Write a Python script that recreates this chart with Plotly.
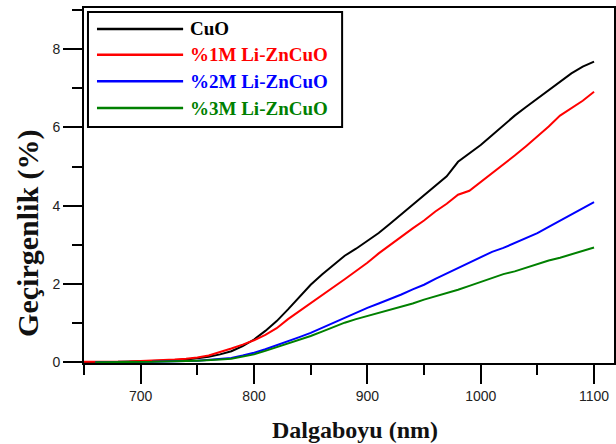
import plotly.graph_objects as go

# ---- data ----
wavelength = list(range(650, 1101, 10))

cuo = [0.00, 0.00, 0.01, 0.01, 0.02, 0.02, 0.03, 0.04, 0.05, 0.07, 0.10,
       0.14, 0.20, 0.28, 0.41, 0.58, 0.80, 1.05, 1.35, 1.66, 1.98,
       2.24, 2.48, 2.72, 2.90, 3.09, 3.30, 3.54, 3.78, 4.03, 4.28,
       4.52, 4.75, 5.12, 5.33, 5.55, 5.80, 6.06, 6.30, 6.52, 6.74,
       6.95, 7.18, 7.38, 7.55, 7.68]

li1 = [0.01, 0.01, 0.01, 0.02, 0.02, 0.03, 0.04, 0.05, 0.07, 0.09, 0.12,
       0.17, 0.25, 0.35, 0.45, 0.56, 0.70, 0.87, 1.10, 1.30, 1.51,
       1.71, 1.91, 2.12, 2.33, 2.54, 2.78, 3.00, 3.22, 3.42, 3.62,
       3.85, 4.05, 4.28, 4.38, 4.60, 4.82, 5.04, 5.28, 5.52, 5.77,
       6.02, 6.30, 6.50, 6.68, 6.91]

li2 = [None, 0.00, 0.00, 0.00, 0.01, 0.01, 0.01, 0.02, 0.02, 0.03, 0.04,
       0.06, 0.08, 0.11, 0.17, 0.24, 0.33, 0.43, 0.53, 0.64, 0.75,
       0.88, 1.01, 1.14, 1.27, 1.39, 1.50, 1.61, 1.73, 1.86, 1.98,
       2.13, 2.27, 2.41, 2.56, 2.70, 2.82, 2.92, 3.05, 3.18, 3.30,
       3.46, 3.62, 3.78, 3.94, 4.09]

li3 = [None, 0.00, 0.00, 0.00, 0.01, 0.01, 0.01, 0.02, 0.02, 0.03, 0.04,
       0.05, 0.07, 0.09, 0.14, 0.20, 0.29, 0.38, 0.47, 0.57, 0.67,
       0.78, 0.90, 1.01, 1.10, 1.18, 1.26, 1.34, 1.42, 1.50, 1.60,
       1.68, 1.76, 1.85, 1.95, 2.05, 2.16, 2.25, 2.32, 2.42, 2.50,
       2.60, 2.67, 2.76, 2.85, 2.93]

series_names = ["CuO", "%1M Li-ZnCuO", "%2M Li-ZnCuO", "%3M Li-ZnCuO"]
series_colors = ["#000000", "#ff0000", "#0000ff", "#008000"]
series_values = [cuo, li1, li2, li3]

x_title = "Dalgaboyu (nm)"
y_title = "Geçirgenlik (%)"

# ---- figure ----
fig = go.Figure()
for name, color, vals in zip(series_names, series_colors, series_values):
    fig.add_trace(go.Scatter(x=wavelength, y=vals, mode="lines", name=name,
                             line=dict(color=color, width=2),
                             showlegend=False))

serif = "Liberation Serif, Times New Roman, serif"
sans = "Liberation Sans, Arial, sans-serif"

fig.update_layout(
    width=616, height=444,
    margin=dict(l=84, r=2, t=8, b=81, autoexpand=False),
    paper_bgcolor="white", plot_bgcolor="white",
    showlegend=False,
)
fig.update_xaxes(
    range=[650, 1117.6], showgrid=False, zeroline=False, automargin=False,
    showline=True, linecolor="black", linewidth=2, mirror=True,
    ticks="outside", ticklen=19, tickwidth=2, tickcolor="black",
    dtick=100, tick0=0,
    tickfont=dict(family=sans, size=14, color="#222"),
    minor=dict(dtick=50, ticks="outside", ticklen=10, tickwidth=2, tickcolor="black"),
)
fig.update_yaxes(
    range=[-0.02, 9.05], showgrid=False, zeroline=False, automargin=False,
    showline=True, linecolor="black", linewidth=2, mirror=True,
    ticks="outside", ticklen=19, tickwidth=2, tickcolor="black",
    dtick=2, tick0=0,
    tickfont=dict(family=sans, size=14, color="#222"),
    minor=dict(dtick=1, ticks="outside", ticklen=10, tickwidth=2, tickcolor="black"),
)

# axis titles
fig.add_annotation(text="<b>%s</b>" % x_title, xref="paper", yref="paper",
                   x=0.511, y=-0.189, xanchor="center", yanchor="middle",
                   showarrow=False, font=dict(family=serif, size=24, color="#111"))
fig.add_annotation(text="<b>%s</b>" % y_title, xref="paper", yref="paper",
                   x=-0.106, y=0.366, xanchor="center", yanchor="middle",
                   textangle=-90, showarrow=False,
                   font=dict(family=serif, size=30, color="#111"))

# legend box (drawn)
fig.add_shape(type="rect", xref="paper", yref="paper",
              x0=0.0075, x1=0.487, y0=0.665, y1=0.989,
              line=dict(color="black", width=2), fillcolor="white", layer="above")
leg_y = [0.941, 0.868, 0.794, 0.718]
for name, color, yy in zip(series_names, series_colors, leg_y):
    fig.add_shape(type="line", xref="paper", yref="paper",
                  x0=0.0245, x1=0.187, y0=yy, y1=yy,
                  line=dict(color=color, width=2.5), layer="above")
    fig.add_annotation(text="<b>%s</b>" % name, xref="paper", yref="paper",
                       x=0.197, y=yy, xanchor="left", yanchor="middle",
                       showarrow=False, font=dict(family=serif, size=19, color=color))

fig.write_html("out.html", config={"displayModeBar": False},
               post_script="document.body.style.margin='0';document.body.style.overflow='hidden';")
